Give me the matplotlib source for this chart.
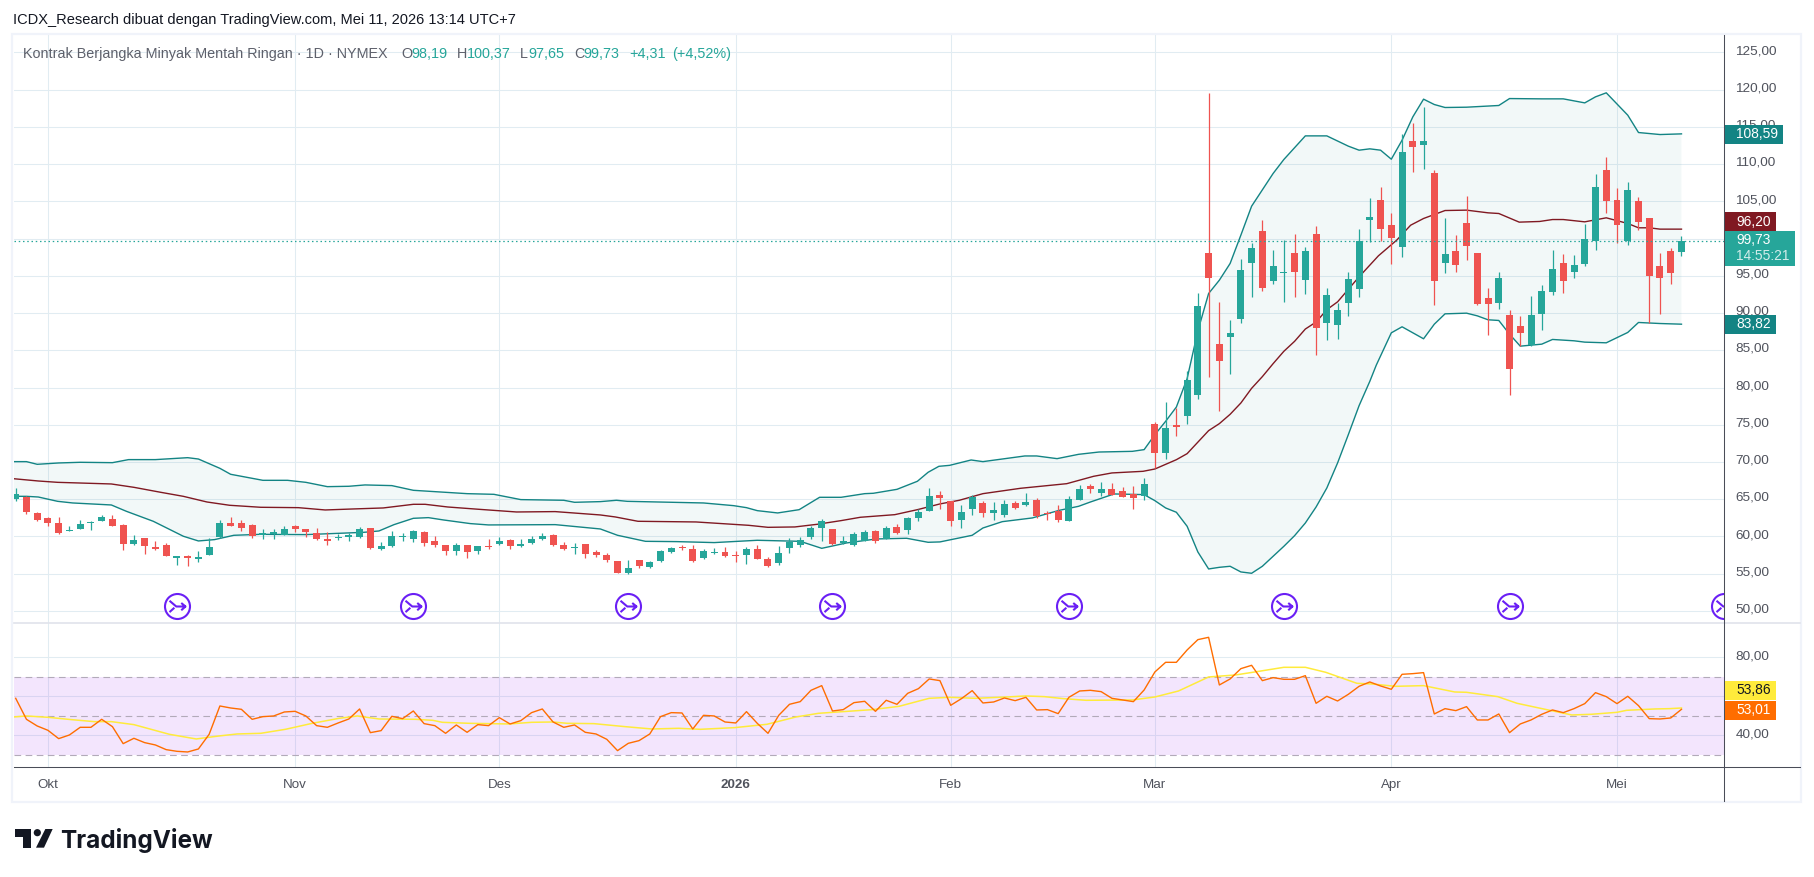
import numpy as np
import matplotlib
matplotlib.use("Agg")
import matplotlib.pyplot as plt
from matplotlib.path import Path
from matplotlib.patches import Rectangle, Polygon, Circle
from matplotlib.transforms import ScaledTranslation

plt.rcParams['font.family'] = ['Liberation Sans', 'DejaVu Sans']

# ---------- data ----------
opens = [65.08,65.26,63.20,62.53,61.86,60.70,61.05,61.77,62.04,62.40,61.59,58.95,59.76,58.64,58.91,57.12,57.43,56.94,57.56,59.89,
61.86,61.81,61.59,60.20,60.38,60.20,61.46,61.05,60.47,59.71,59.76,59.89,59.98,61.19,58.37,58.68,59.89,59.71,60.65,59.44,
58.86,58.01,58.91,58.01,58.64,58.95,59.58,58.68,59.09,59.62,60.25,58.91,58.41,59.04,57.97,57.56,56.76,55.06,56.85,55.86,
56.67,57.88,58.55,58.37,57.07,57.74,57.97,57.39,57.48,58.37,57.03,56.40,58.41,58.91,59.89,61.10,61.05,59.09,58.91,59.44,
60.74,59.67,61.32,60.83,62.53,63.47,65.62,64.77,62.26,63.74,64.50,63.11,62.93,64.50,64.19,64.95,63.11,63.43,62.13,64.95,
66.78,65.89,66.38,66.11,65.71,65.44,75.15,71.16,74.80,76.13,79.04,98.04,85.88,86.81,89.22,96.74,100.99,94.32,95.31,98.04,
94.46,100.59,88.68,88.42,91.37,93.25,102.46,105.15,101.79,98.89,113.07,112.58,108.77,96.74,98.30,102.06,98.04,92.00,91.37,89.71,
88.24,85.73,89.89,92.85,96.69,95.53,96.60,99.69,109.18,105.15,99.69,105.01,102.73,96.29,98.30,98.19]
highs = [66.51,65.39,63.29,62.62,62.62,61.41,62.26,62.13,62.93,62.89,61.68,60.20,59.85,59.40,59.18,57.34,57.52,58.06,59.80,62.22,
62.62,62.26,61.64,61.01,61.01,61.46,61.55,61.05,61.14,60.61,60.38,60.47,61.28,61.19,59.26,60.74,60.47,60.92,60.74,60.07,
58.91,59.18,58.91,58.77,59.67,59.94,59.67,59.67,60.03,60.47,60.34,59.26,59.09,59.04,58.19,57.79,56.76,56.85,56.85,56.71,
58.19,58.59,58.86,58.86,58.33,58.50,58.64,58.01,58.59,58.91,57.30,58.77,59.85,59.98,61.46,62.35,61.05,60.07,60.61,60.92,
60.88,61.41,61.68,62.67,63.65,66.56,66.15,64.81,64.28,65.57,64.77,64.63,64.90,64.77,65.84,65.17,63.43,64.28,65.44,66.92,
67.09,67.36,67.23,66.69,66.83,67.90,75.42,78.10,77.25,82.26,92.62,119.51,91.46,89.04,97.23,99.38,102.46,98.44,99.74,100.59,
98.84,101.66,93.34,91.41,95.49,101.26,105.42,106.89,103.40,114.01,115.48,117.63,109.18,102.73,100.45,105.69,98.04,93.34,95.49,90.38,
89.58,92.26,93.74,98.44,97.90,97.77,101.93,108.64,110.92,106.76,107.57,105.55,102.73,98.04,98.71,100.37]
lows = [64.72,63.07,62.13,61.46,60.38,60.70,61.05,60.83,62.04,61.37,58.24,58.91,57.70,58.24,57.34,56.22,56.09,56.54,57.52,59.85,
61.37,60.79,59.85,59.71,59.71,60.16,60.65,59.98,59.58,58.86,59.49,59.44,59.76,58.37,58.24,58.64,59.35,59.31,58.77,58.64,
57.48,57.48,57.16,57.70,58.37,58.91,58.37,58.55,59.00,59.58,58.77,58.24,57.70,57.07,57.21,56.54,55.06,55.01,55.82,55.73,
56.63,57.83,58.24,56.63,57.03,57.70,57.30,56.63,56.36,56.94,55.86,56.18,57.74,58.55,59.62,59.35,58.82,58.95,58.68,59.35,
59.09,59.62,60.38,60.29,62.13,63.38,63.74,61.46,61.19,62.93,62.67,62.26,62.67,63.74,64.14,62.53,62.26,62.00,62.08,64.90,
65.89,65.48,65.57,65.26,63.74,64.95,69.20,70.45,73.45,75.06,78.41,81.37,76.80,81.84,88.68,92.17,92.98,93.92,91.46,92.17,
92.58,84.39,86.40,86.54,89.62,92.17,99.56,99.69,96.60,97.54,108.95,109.35,91.10,95.40,95.53,97.14,91.10,87.07,90.56,79.02,
85.60,85.60,87.75,92.44,92.71,94.72,96.34,98.48,103.45,99.42,99.15,101.17,88.68,89.89,93.92,97.65]
closes = [65.75,63.34,62.26,61.77,60.43,60.92,61.73,61.86,62.67,61.46,58.95,59.58,58.68,58.28,57.43,57.21,57.07,57.30,58.64,61.86,
61.46,61.19,60.03,60.47,60.65,61.05,61.05,60.56,59.62,59.35,59.80,60.25,61.01,58.41,58.77,60.11,59.94,60.79,59.18,58.91,
58.01,58.86,57.88,58.77,58.55,59.44,58.68,59.04,59.71,60.11,58.82,58.28,58.50,57.61,57.48,56.80,55.15,55.78,56.00,56.58,
58.10,58.50,58.41,56.67,58.06,57.92,57.34,57.34,58.37,57.03,56.00,57.79,59.22,59.53,61.19,62.08,59.00,59.40,60.34,60.61,
59.35,61.14,60.52,62.53,63.34,65.48,65.22,62.13,63.34,65.26,63.20,63.60,64.41,63.87,64.68,62.80,62.98,62.26,65.08,66.38,
66.42,66.38,65.62,65.35,65.22,67.09,71.16,74.61,74.75,81.05,90.98,94.72,83.51,87.30,95.75,98.71,93.38,96.29,95.49,95.53,
98.30,88.01,92.40,90.38,94.55,99.65,102.87,101.30,100.09,111.59,112.31,113.07,94.32,97.90,96.47,99.02,91.24,91.24,94.68,82.51,
87.34,89.71,92.94,95.89,94.32,96.42,99.91,106.89,105.06,101.84,106.49,102.24,94.99,94.72,95.40,99.73]

upper_i = [-0.3,1,2,4,6,9,10.5,13,16,17,19,20,23,25.3,27,29,31,32.5,35,37,40,42,44.5,47,51,52,54.4,55.9,56.9,64,66.8,68,69,70.9,72.9,74.8,76.8,79,79.8,82,83.9,84.9,85.9,86.9,88.9,90,93.9,95,96.9,98.9,100.8,103.9,105,106,107,108,109,110,111,112,113,114,115,117,118,120,122,124,125,126,127,128,129,130,131,132,133,135,138,139,142,144,146,147,148,150,151,153,155]
upper_v = [70.05,70.05,69.69,69.87,69.96,69.91,70.32,70.32,70.58,70.40,69.15,68.35,67.54,67.54,67.27,66.69,66.74,66.92,66.83,66.20,65.93,65.75,65.66,64.95,64.86,64.59,64.68,64.86,64.72,64.50,64.14,63.87,63.47,63.16,63.60,65.26,65.26,65.75,65.80,66.33,67.41,68.62,69.42,69.55,70.27,70.05,70.81,70.81,70.45,71.03,71.34,71.43,71.66,73.67,75.46,77.38,81.20,87.60,92.62,94.41,96.65,100.45,104.34,108.73,110.61,113.78,113.78,112.40,111.86,112.04,111.86,110.65,113.20,116.33,118.71,117.99,117.59,117.63,117.86,118.79,118.75,118.75,118.21,119.02,119.56,116.56,114.23,113.96,114.05]
mid_i = [-0.3,2.1,3.9,8.9,11,13.5,15.6,17.8,19.9,22.8,26.3,28.8,31.3,34.2,37,38.1,40.2,43.1,46.6,50.2,54.4,55.8,57.9,63.3,68.2,70,72.5,74.6,76.8,78.6,81.8,83.9,86,87.8,90,93.5,97.8,100.3,102,104.9,106,108,109,111,112,113,114,115,116,117,118,119,120,121,122,123,125,126.8,128.5,129.8,131,133,135,137,138,139.9,141.8,143,144,146,148,150,151,152,153,155]
mid_v = [67.77,67.45,67.27,67.05,66.60,65.93,65.39,64.63,64.19,63.92,63.87,63.56,63.69,63.83,64.32,64.32,63.96,63.65,63.29,63.34,62.89,62.62,62.04,61.95,61.50,61.23,61.28,61.64,62.13,62.58,62.93,63.60,64.37,64.86,65.75,66.47,67.09,68.08,68.53,68.75,69.06,70.31,71.12,74.21,75.15,76.40,77.92,79.89,81.46,83.20,84.86,86.20,87.85,88.79,90.45,91.50,94.86,97.68,99.78,101.79,102.69,103.76,103.81,103.45,103.36,102.20,102.29,102.55,102.55,102.24,102.78,102.02,101.44,101.44,101.26,101.26]
lower_i = [-0.2,1,2.1,3.9,5.3,8.9,10.3,12.8,15.6,17,18.5,20.3,22.8,27,32.4,33.8,35.2,37,38.4,39.8,42.3,44,50.2,54.4,56,58.6,61.5,65,69,73,75,77.3,80.1,82.9,84.9,86,89,90,91.8,94.6,97.1,98.9,100,102.2,105,106,107,108,109,110,111,112,113,114,115,116,117,118,119,120,121,122,123,124,125,126,126.6,128,129,131,132,133,135,136,137,138,139,140,142,143,145,146,148,150,151,153,155]
lower_v = [65.39,65.39,65.30,64.72,64.50,64.23,63.38,62.04,60.03,59.40,59.58,60.16,60.29,60.25,60.56,60.74,61.59,62.44,62.53,62.22,61.73,61.55,61.59,61.01,60.16,59.35,59.31,59.18,59.49,59.35,58.41,59.13,59.67,59.76,59.22,59.27,60.16,61.14,61.99,62.49,63.51,64.05,64.63,65.71,65.62,64.81,63.83,63.25,61.37,57.92,55.64,55.86,56.00,55.24,55.06,56.00,57.34,58.68,60.11,61.81,63.96,66.51,69.87,73.67,77.56,80.83,83.00,87.34,88.15,86.54,88.50,89.89,89.98,89.62,89.09,89.00,87.16,85.55,85.82,86.45,86.27,86.09,86.00,87.39,88.73,88.59,88.50]

rsi = [58.97,48.20,44.78,42.56,38.29,40.17,44.10,44.10,48.20,44.44,35.72,38.46,36.24,35.04,32.65,31.79,31.45,32.99,40.51,55.04,
54.01,53.33,48.20,49.57,49.91,51.96,52.30,49.91,44.95,44.10,46.32,48.37,53.50,41.36,42.39,49.74,48.54,52.47,45.98,44.95,
41.02,45.30,41.53,45.47,44.95,49.06,45.81,47.52,51.62,53.50,46.83,44.10,45.30,41.53,40.68,37.94,32.13,35.89,37.26,40.68,
49.57,51.62,51.45,43.24,50.25,49.91,46.83,46.32,52.13,46.15,41.02,50.25,55.89,57.26,63.07,65.47,52.47,53.16,56.75,57.43,
52.30,57.95,55.89,61.53,63.93,68.89,68.03,55.38,58.80,62.90,56.58,57.09,59.14,57.77,59.48,52.99,53.16,51.11,59.48,62.73,
63.07,62.39,58.97,58.12,57.26,63.24,72.48,77.43,77.43,83.76,89.06,90.25,65.81,68.89,74.18,75.89,68.03,69.57,68.71,68.71,
70.59,56.41,60.00,57.60,61.02,65.12,67.35,65.30,63.59,71.28,71.62,72.13,50.94,53.67,52.65,54.70,47.86,47.86,50.94,41.36,
45.81,47.86,50.77,52.99,51.62,53.67,56.24,61.88,59.83,56.24,60.00,55.21,48.54,48.37,48.89,53.33]
rsi_ma_i = [-0.2,1,3,5.2,7.3,8.9,11,14.3,16.8,18.9,20.6,22.8,25.1,27.6,30.1,31.8,33.8,37.2,38.8,39.7,42.2,45.9,48,50,51.3,53.8,56.7,59.2,61.7,63.7,66.9,69.9,72.6,74.7,79.7,82.2,85,86.9,89.3,92.2,94,95.7,97.5,99.6,103.9,106,108.2,109.6,111,113.5,115.3,118,120,121.9,124.8,126.2,128.4,131,133.9,135,137.9,139.7,142.6,144.8,146.6,149,149.9,152.5,153.9,155]
rsi_ma_v = [49.40,49.91,49.23,48.03,47.01,47.01,45.47,40.51,38.12,39.65,40.68,41.02,43.07,46.15,48.71,49.91,48.37,48.20,47.69,46.66,46.15,45.81,46.66,46.83,46.15,45.98,44.44,43.24,43.59,43.07,43.93,45.64,49.40,51.28,53.16,54.87,58.97,59.48,58.97,59.65,60.17,59.83,58.80,57.95,58.12,59.65,62.73,66.32,69.91,70.94,72.48,74.87,74.87,72.30,66.66,66.32,65.12,65.47,62.22,62.05,59.83,56.41,52.99,50.42,50.77,51.79,52.82,53.50,53.67,54.01]

month_bars = [3, 26, 45, 67, 87, 106, 128, 149]
month_labels = ['Okt', 'Nov', 'Des', '2026', 'Feb', 'Mar', 'Apr', 'Mei']
split_bars = [15, 37, 57, 76, 98, 118, 139, 159]
split_level = 50.7
price_ticks = list(range(50, 130, 5))
hidden_price_tick = 100          # covered by the last-price tag in the chart
rsi_grid = [40, 60, 80]
rsi_levels = [30, 50, 70]
last_close = 99.73

# ---------- colours ----------
UP, DOWN = '#26a69a', '#ef5350'
BAND, MID = '#138484', '#801922'
GRID = '#e1ecf2'
TXT = '#4f525c'
DARK = '#4a4d58'

W, H = 1814, 877
PANE_L, PANE_R, PANE_T, PANE_M, PANE_B = 13.5, 1724, 35, 622.5, 767.3
fig = plt.figure(figsize=(W/100, H/100), dpi=100, facecolor='white')
ax = fig.add_axes([PANE_L/W, 1-PANE_M/H, (PANE_R-PANE_L)/W, (PANE_M-PANE_T)/H])
ax2 = fig.add_axes([PANE_L/W, 1-PANE_B/H, (PANE_R-PANE_L)/W, (PANE_B-PANE_M)/H])
ov = fig.add_axes([0, 0, 1, 1], zorder=10, facecolor='none')
ov.set_xlim(0, W); ov.set_ylim(H, 0); ov.set_axis_off()

BAR0, BAR_STEP = 15.7, 10.747
xlim = ((PANE_L-BAR0)/BAR_STEP, (PANE_R-BAR0)/BAR_STEP)
ax.set_xlim(*xlim); ax2.set_xlim(*xlim)
ax.set_ylim(125-(PANE_M-52.3)/7.449, 125+(52.3-PANE_T)/7.449)
ax2.set_ylim(40-(PANE_B-735.3)/1.95, 80+(657.3-PANE_M)/1.95)

def fmt(v):
    return f'{v:.2f}'.replace('.', ',')

# ---------- main pane ----------
for a in (ax, ax2):
    a.set_xticks(month_bars)
    a.xaxis.grid(True, color=GRID, lw=0.75, zorder=0)
    a.yaxis.grid(True, color=GRID, lw=0.75, zorder=0)
    a.set_axisbelow(True)
    for s in a.spines.values():
        s.set_visible(False)
    a.yaxis.tick_right()
    a.tick_params(axis='y', length=0, pad=8.2, labelsize=9.7, labelcolor=TXT)
ax.set_yticks(price_ticks)
ax.set_yticklabels(['' if v == hidden_price_tick else fmt(v) for v in price_ticks])
ax.tick_params(axis='x', length=0, labelbottom=False)

poly_x = list(upper_i) + list(lower_i[::-1])
poly_y = list(upper_v) + list(lower_v[::-1])
ax.fill(poly_x, poly_y, color=BAND, alpha=0.05, lw=0, zorder=1)
ax.plot(upper_i, upper_v, color=BAND, lw=1, zorder=2)
ax.plot(lower_i, lower_v, color=BAND, lw=1, zorder=2)
ax.plot(mid_i, mid_v, color=MID, lw=1, zorder=2)

idx = np.arange(len(opens))
o, h, l, c = map(np.array, (opens, highs, lows, closes))
cols = [UP if ci >= oi else DOWN for oi, ci in zip(o, c)]
wicks = ax.vlines(idx, l, h, colors=cols, lw=0.9, zorder=3)
wicks.set_snap(True)
ax.bar(idx, np.maximum(np.abs(c-o), 0.2), bottom=np.minimum(o, c), width=0.65,
       color=cols, lw=0, zorder=4)
ax.axhline(last_close, color=UP, lw=0.9, ls=(0, (1.2, 2.2)), zorder=5)

# contract-roll marks
arrow = Path([(-.64, .46), (-.1, 0), (.64, 0), (.3, .28), (.64, 0), (.3, -.3), (-.64, -.45), (-.25, -.1)],
             [Path.MOVETO, Path.LINETO, Path.LINETO, Path.MOVETO, Path.LINETO, Path.LINETO, Path.MOVETO, Path.LINETO])
split_marker = Path.make_compound_path(Path.unit_circle(), arrow)
ax.plot(split_bars, [split_level]*len(split_bars), ls='none', marker=split_marker, ms=18,
        mfc='white', mec='#6a1ff5', mew=1.5, zorder=6)

# ---------- RSI pane ----------
ax2.set_yticks(rsi_grid)
ax2.set_yticklabels([fmt(40), '', fmt(80)])
ax2.axhspan(min(rsi_levels), max(rsi_levels), color=(0.6, 0.1, 0.95), alpha=0.11, lw=0, zorder=1)
for lev in rsi_levels:
    ax2.axhline(lev, color='#b2aab9', lw=0.8, ls=(0, (6, 4)), zorder=2)
ax2.plot(rsi_ma_i, rsi_ma_v, color='#ffeb3b', lw=1.1, zorder=3)
ax2.plot(idx, rsi, color='#ff6d00', lw=1, zorder=4)
ax2.set_xticklabels(month_labels)
ax2.tick_params(axis='x', length=0, pad=8.7, labelsize=9.6, labelcolor=TXT)
for lab in ax2.get_xticklabels():
    if lab.get_text() == '2026':
        lab.set_fontweight('bold')

# tick labels sit slightly above their grid lines
lift = ScaledTranslation(0, 2/72, fig.dpi_scale_trans)
for a in (ax, ax2):
    for lab in a.get_yticklabels():
        lab.set_transform(lab.get_transform() + lift)

# ---------- frame and rules (pixel space) ----------
ov.add_patch(Rectangle((11.8, 33.8), 1789.5, 767.8, fill=False, ec='#f0f3fa', lw=1.6))
ov.plot([PANE_L, 1800], [622.5, 622.5], color='#e0e3eb', lw=1.2)
ov.plot([PANE_L, 1800], [767.3, 767.3], color=DARK, lw=0.75)
ov.plot([1724, 1724], [35, 801], color=DARK, lw=0.75)

def price_box(x1, y1, y2, bg, text, tc='white', size=9.9):
    ov.add_patch(Rectangle((1724.5, y1), x1-1724.5, y2-y1, fc=bg, ec='none', zorder=5))
    ov.text(1736, (y1+y2)/2, text, color=tc, fontsize=size, ha='left', va='center', zorder=6)

price_box(1782.7, 125, 143.7, BAND, '108,59')
price_box(1776, 212.3, 230.7, MID, '96,20')
ov.add_patch(Rectangle((1724.5, 231), 70.5, 34.7, fc=UP, ec='none', zorder=5))
ov.text(1736, 239.5, '99,73', color='white', fontsize=9.9, ha='left', va='center', zorder=6)
ov.text(1736, 255.5, '14:55:21', color='white', alpha=0.8, fontsize=9.9, ha='left', va='center', zorder=6)
price_box(1776, 315, 333.7, BAND, '83,82')
price_box(1776, 681, 699.7, '#ffeb3b', '53,86', tc='#131722')
price_box(1776, 701, 719.7, '#ff6d00', '53,01')

# ---------- header ----------
ov.text(12.8, 20, 'ICDX_Research dibuat dengan TradingView.com, Mei 11, 2026 13:14 UTC+7',
        color='#131722', fontsize=10.5, ha='left', va='center')
LEG = '#5d606b'
TEAL = '#26a69a'
ov.text(23, 54, 'Kontrak Berjangka Minyak Mentah Ringan · 1D · NYMEX', color=LEG, fontsize=10.4, ha='left', va='center')
for x, s, col in [(401, 'O', LEG), (411, '98,19', TEAL), (456.6, 'H', LEG), (467, '100,37', TEAL),
                  (520, 'L', LEG), (528, '97,65', TEAL), (574, 'C', LEG), (583, '99,73', TEAL),
                  (629, '+4,31', TEAL), (672, '(+4,52%)', TEAL)]:
    ov.text(x, 54, s, color=col, fontsize=10.4, ha='left', va='center')

# ---------- logo ----------
LOGO = '#131722'
def lp(x, y):
    return (x/3, 810+y/3)
ov.add_patch(Polygon([lp(46, 57), lp(92, 57), lp(92, 113), lp(69, 113), lp(69, 80), lp(46, 80)], fc=LOGO, ec='none'))
ov.add_patch(Circle(lp(112, 68), 3.6, fc=LOGO, ec='none'))
ov.add_patch(Polygon([lp(136, 57), lp(158, 57), lp(132, 113), lp(108, 113)], fc=LOGO, ec='none'))
ov.text(60.5, 847.7, 'TradingView', color=LOGO, fontsize=17.5, fontweight='bold', family=['Inter', 'DejaVu Sans'],
        ha='left', va='baseline')

fig.savefig('out.png', dpi=100)
